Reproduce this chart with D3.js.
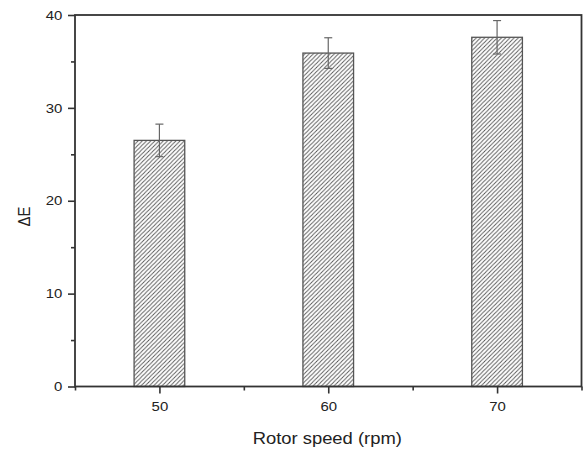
<!DOCTYPE html>
<html>
<head>
<meta charset="utf-8">
<script src="https://cdn.jsdelivr.net/npm/d3@7"></script>
<style>
  body { margin: 0; background: #fff; }
  svg { display: block; }
  text { font-family: Arial, "Liberation Sans", sans-serif; fill: #222; }
</style>
</head>
<body>
<script>
"use strict";

// data
var speeds = [50, 60, 70];
var delta_e = [26.5, 35.9, 37.6];
var errors = [1.75, 1.65, 1.8];
var y_ticks = [0, 10, 20, 30, 40];
var y_minor = [5, 15, 25, 35];
var x_ticks = [50, 60, 70];
var x_minor = [45, 55, 65, 75];

var width = 583, height = 450,
  margin = {top: 15, right: 1.5, bottom: 63.5, left: 75},
  iw = width - margin.left - margin.right,
  ih = height - margin.top - margin.bottom,
  axis_col = '#333',
  stretch = 1.15,   // the original picture is a bit wider than tall
  bar_half = 1.5;

var svg = d3.select('body').append('svg')
  .attr('width', width)
  .attr('height', height);

var defs = svg.append('defs');
defs.append('pattern')
  .attr('id', 'hatch')
  .attr('patternUnits', 'userSpaceOnUse')
  .attr('width', 4.2)
  .attr('height', 4.2)
  .append('path')
    .attr('d', 'M-1,1 l2,-2 M0,4.2 l4.2,-4.2 M3.2,5.2 l2,-2')
    .attr('stroke', '#555')
    .attr('stroke-width', 0.9);

var g = svg.append('g')
  .attr('transform', `translate(${margin.left}, ${margin.top})`);

var x = d3.scaleLinear().domain([45, 75]).range([0, iw]);
var y = d3.scaleLinear().domain([0, 40]).range([ih, 0]);

var data = speeds.map((s, i) => ({speed: s, value: delta_e[i], err: errors[i]}));

// bars
g.selectAll('.bar').data(data).enter()
  .append('rect')
  .attr('class', 'bar')
  .attr('x', d => x(d.speed - bar_half))
  .attr('width', d => x(d.speed + bar_half) - x(d.speed - bar_half))
  .attr('y', d => y(d.value))
  .attr('height', d => y(0) - y(d.value))
  .attr('fill', 'url(#hatch)')
  .attr('stroke', '#555')
  .attr('stroke-width', 1.3);

// error bars
var err = g.selectAll('.err').data(data).enter()
  .append('g')
  .attr('class', 'err')
  .attr('stroke', '#666')
  .attr('stroke-width', 1.2);

err.append('line')
  .attr('x1', d => x(d.speed)).attr('x2', d => x(d.speed))
  .attr('y1', d => y(d.value - d.err)).attr('y2', d => y(d.value + d.err));
err.append('line')
  .attr('x1', d => x(d.speed) - 4).attr('x2', d => x(d.speed) + 4)
  .attr('y1', d => y(d.value + d.err)).attr('y2', d => y(d.value + d.err));
err.append('line')
  .attr('x1', d => x(d.speed) - 4).attr('x2', d => x(d.speed) + 4)
  .attr('y1', d => y(d.value - d.err)).attr('y2', d => y(d.value - d.err));

// axes
g.append('g')
  .attr('class', 'axis')
  .call(d3.axisLeft(y).tickValues(y_ticks).tickSize(7).tickPadding(4).tickSizeOuter(0));

g.append('g')
  .call(d3.axisLeft(y).tickValues(y_minor).tickSize(4).tickFormat('').tickSizeOuter(0));

g.append('g')
  .attr('class', 'axis')
  .attr('transform', `translate(0, ${ih})`)
  .call(d3.axisBottom(x).tickValues(x_ticks).tickSize(7).tickPadding(8).tickSizeOuter(0));

g.append('g')
  .attr('transform', `translate(0, ${ih})`)
  .call(d3.axisBottom(x).tickValues(x_minor).tickSize(4).tickFormat('').tickSizeOuter(0));

g.selectAll('.domain').remove();
g.selectAll('.tick line').attr('stroke', axis_col).attr('stroke-width', 1.6);
g.selectAll('.tick text')
  .style('font-family', 'Arial, "Liberation Sans", sans-serif')
  .style('font-size', '13px')
  .attr('fill', '#222')
  .attr('transform', `scale(${stretch}, 1)`);

// frame
g.append('rect')
  .attr('width', iw)
  .attr('height', ih)
  .attr('fill', 'none')
  .attr('stroke', axis_col)
  .attr('stroke-width', 1.8);

// labels
svg.append('text')
  .attr('transform', `translate(30, 216.5) rotate(-90) scale(1, ${stretch})`)
  .attr('text-anchor', 'middle')
  .style('font-size', '15px')
  .text('\u0394E');

svg.append('text')
  .attr('transform', `translate(${margin.left + x(60) - 1}, 443.5) scale(${stretch}, 1)`)
  .attr('text-anchor', 'middle')
  .style('font-size', '16px')
  .text('Rotor speed (rpm)');
</script>
</body>
</html>
